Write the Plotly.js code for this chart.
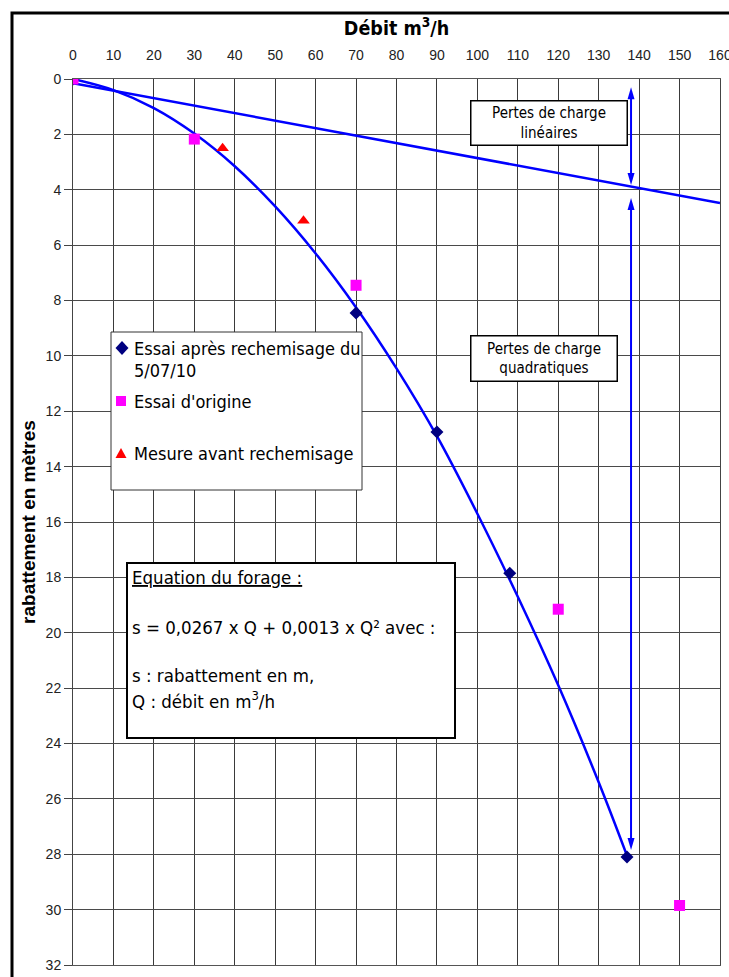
<!DOCTYPE html>
<html>
<head>
<meta charset="utf-8">
<script src="https://cdn.plot.ly/plotly-3.0.1.min.js"></script>
<style>html,body{margin:0;padding:0;background:#fff;}#chart{width:729px;height:977px;}</style>
</head>
<body>
<div id="chart"></div>
<script>
// ---- Data ----
const qEssai = [0, 70, 90, 108, 137];
const sEssai = [0, 8.45, 12.75, 17.85, 28.1];

const qOrigine = [0, 30, 70, 120, 150];
const sOrigine = [0, 2.17, 7.45, 19.15, 29.85];

const qAvant = [37, 57];
const sAvant = [2.5, 5.12];

const qCourbe = [0, 10, 20, 30, 40, 50, 60, 70, 80, 90, 100, 110, 120, 130, 137];
const sCourbe = [0, 0.4, 1.05, 1.97, 3.15, 4.6, 6.3, 8.25, 10.45, 12.9, 15.7, 18.7, 21.9, 25.4, 28.05];

const qLineaire = [0, 160];
const sLineaire = [0.15, 4.48];

const xTickVals = [0,10,20,30,40,50,60,70,80,90,100,110,120,130,140,150,160];
const yTickVals = [0,2,4,6,8,10,12,14,16,18,20,22,24,26,28,30,32];

const legendLabels = ["Essai après rechemisage du", "5/07/10", "Essai d'origine", "Mesure avant rechemisage"];
const equationLines = ["<u>Equation du forage :</u>", "s = 0,0267 x Q + 0,0013 x Q² avec :", "s : rabattement en m,", "Q : débit en m<sup>3</sup>/h"];

// ---- Layout helpers (pixel -> paper) ----
const W = 729, H = 977;
const L = 73, R = 720, T = 79, B = 965;
const px = x => (x - L) / (R - L);
const py = y => (B - y) / (B - T);
const qPix = q => L + q * (R - L) / 160;
const sPix = s => T + s * (B - T) / 32;

const TXT = "Tahoma, 'DejaVu Sans Condensed', 'DejaVu Sans', sans-serif";
const ARL = "Arial, 'Liberation Sans', sans-serif";

const traces = [
  {x: qLineaire, y: sLineaire, mode: 'lines', line: {color: '#0000FF', width: 2.5}, hoverinfo: 'skip'},
  {x: qCourbe, y: sCourbe, mode: 'lines', line: {color: '#0000FF', width: 2.5, shape: 'spline'}, hoverinfo: 'skip'},
  {x: qEssai, y: sEssai, mode: 'markers', marker: {symbol: 'diamond', size: 10, color: '#000080'}},
  {x: qOrigine, y: sOrigine, mode: 'markers', marker: {symbol: 'square', size: 11, color: '#FF00FF'}},
  {x: qAvant, y: sAvant, mode: 'markers', marker: {symbol: 'triangle-up', size: 11, color: '#FF0000'}}
];

const shapes = [
  // outer frame
  {type: 'rect', xref: 'paper', yref: 'paper', x0: px(12), x1: px(760), y0: py(1000), y1: py(13),
   line: {color: '#000', width: 3}, fillcolor: 'rgba(0,0,0,0)'},
  // legend box
  {type: 'rect', xref: 'paper', yref: 'paper', x0: px(111), x1: px(362), y0: py(490), y1: py(332),
   line: {color: '#333', width: 1}, fillcolor: '#fff'},
  // legend symbols
  {type: 'path', xref: 'paper', yref: 'paper',
   path: `M ${px(122)} ${py(341)} L ${px(128.5)} ${py(348)} L ${px(122)} ${py(355)} L ${px(115.5)} ${py(348)} Z`,
   fillcolor: '#000080', line: {width: 0}},
  {type: 'rect', xref: 'paper', yref: 'paper', x0: px(116), x1: px(126), y0: py(406), y1: py(396),
   fillcolor: '#FF00FF', line: {width: 0}},
  {type: 'path', xref: 'paper', yref: 'paper',
   path: `M ${px(115.5)} ${py(458)} L ${px(126.5)} ${py(458)} L ${px(121)} ${py(448)} Z`,
   fillcolor: '#FF0000', line: {width: 0}},
  // equation box
  {type: 'rect', xref: 'paper', yref: 'paper', x0: px(127), x1: px(455), y0: py(738), y1: py(563),
   line: {color: '#000', width: 2}, fillcolor: '#fff'}
];

// double-headed vertical arrows (pixel geometry -> paper)
function doubleArrow(q, sTop, sBot) {
  const x = qPix(q), y1 = sPix(sTop), y2 = sPix(sBot);
  const hl = 12, hw = 3.5;
  shapes.push({type: 'line', xref: 'paper', yref: 'paper', x0: px(x), x1: px(x), y0: py(y1 + hl - 2), y1: py(y2 - hl + 2),
    line: {color: '#0000FF', width: 2}});
  shapes.push({type: 'path', xref: 'paper', yref: 'paper', fillcolor: '#0000FF', line: {width: 0},
    path: `M ${px(x)} ${py(y1)} L ${px(x - hw)} ${py(y1 + hl)} L ${px(x + hw)} ${py(y1 + hl)} Z`});
  shapes.push({type: 'path', xref: 'paper', yref: 'paper', fillcolor: '#0000FF', line: {width: 0},
    path: `M ${px(x)} ${py(y2)} L ${px(x - hw)} ${py(y2 - hl)} L ${px(x + hw)} ${py(y2 - hl)} Z`});
}
doubleArrow(138, 0.3, 3.83);
doubleArrow(138, 4.3, 27.85);

const annotations = [];
// legend texts
const legY = [348, 370, 401, 453];
legendLabels.forEach((t, i) => annotations.push({
  xref: 'paper', yref: 'paper', x: px(132), y: py(legY[i]), xanchor: 'left', yanchor: 'middle',
  text: t, showarrow: false, font: {family: TXT, size: 18, color: '#000'}
}));
// equation texts
const eqY = [577, 627, 675, 700];
equationLines.forEach((t, i) => annotations.push({
  xref: 'paper', yref: 'paper', x: px(130), y: py(eqY[i]), xanchor: 'left', yanchor: 'middle',
  text: t, showarrow: false, font: {family: TXT, size: 18.5, color: '#000'}
}));
// boxed labels
annotations.push({
  xref: 'paper', yref: 'paper', x: px(548.5), y: py(123.5), xanchor: 'center', yanchor: 'middle',
  text: 'Pertes de charge<br>linéaires', showarrow: false, width: 153, height: 41,
  bgcolor: '#fff', bordercolor: '#000', borderwidth: 1.5, borderpad: 1,
  font: {family: TXT, size: 15, color: '#000'}
});
annotations.push({
  xref: 'paper', yref: 'paper', x: px(543.5), y: py(358), xanchor: 'center', yanchor: 'middle',
  text: 'Pertes de charge<br>quadratiques', showarrow: false, width: 143, height: 42,
  bgcolor: '#fff', bordercolor: '#000', borderwidth: 1.5, borderpad: 1,
  font: {family: TXT, size: 15, color: '#000'}
});

const layout = {
  width: W, height: H,
  margin: {l: L, r: W - R, t: T, b: H - B},
  paper_bgcolor: '#fff', plot_bgcolor: '#fff',
  showlegend: false,
  xaxis: {
    side: 'top', range: [0, 160], tickvals: xTickVals, ticktext: xTickVals.map(String),
    showgrid: true, gridcolor: '#3a3a3a', gridwidth: 1, zeroline: false,
    showline: true, mirror: true, linecolor: '#555', linewidth: 1,
    ticks: 'outside', ticklen: 12, tickcolor: 'rgba(0,0,0,0)',
    ticklabeloverflow: 'allow',
    tickfont: {family: ARL, size: 14, color: '#222'},
    title: {text: '<b>Débit m<sup>3</sup>/h</b>', font: {family: TXT, size: 19.5, color: '#000'}, standoff: 6},
    fixedrange: true
  },
  yaxis: {
    range: [32, 0], tickvals: yTickVals, ticktext: yTickVals.map(String),
    showgrid: true, gridcolor: '#4a4a4a', gridwidth: 1, zeroline: false,
    showline: true, mirror: true, linecolor: '#444', linewidth: 1,
    ticks: 'outside', ticklen: 8, tickcolor: '#444',
    tickfont: {family: ARL, size: 14, color: '#222'},
    title: {text: '<b>rabattement en mètres</b>', font: {family: ARL, size: 19, color: '#000'}, standoff: 4},
    fixedrange: true
  },
  shapes: shapes,
  annotations: annotations
};

Plotly.newPlot('chart', traces, layout, {staticPlot: true, displayModeBar: false});
</script>
</body>
</html>
